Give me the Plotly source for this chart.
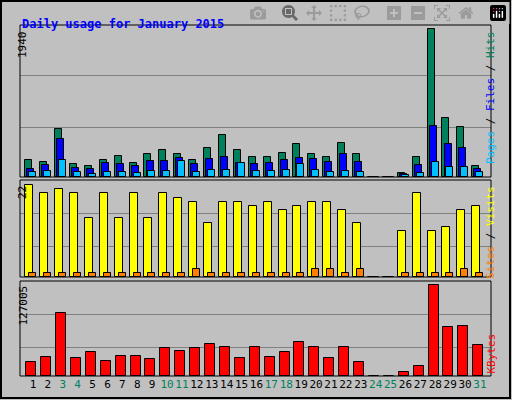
import plotly.graph_objects as go
from plotly.subplots import make_subplots

days = list(range(1, 32))
weekend = [3, 4, 10, 11, 17, 18, 24, 25, 31]
hits = [228, 202, 623, 176, 149, 228, 281, 189, 307, 360, 307, 228, 386, 544, 360, 268,
        268, 320, 439, 307, 268, 452, 307, 0, 0, 57, 268, 1940, 768, 650, 149]
files = [110, 162, 492, 123, 110, 189, 176, 149, 215, 215, 255, 176, 241, 268, 189, 176,
         189, 228, 255, 241, 202, 307, 202, 0, 0, 44, 162, 663, 426, 386, 110]
pages = [70, 83, 228, 70, 44, 70, 70, 57, 83, 83, 215, 70, 97, 97, 189, 83,
         83, 97, 176, 97, 70, 83, 70, 0, 0, 31, 57, 202, 136, 136, 70]
visits = [22, 20, 21, 20, 14, 20, 14, 20, 14, 20, 19, 18, 13, 18, 18, 17,
          18, 16, 17, 18, 18, 16, 13, 0, 0, 11, 20, 11, 12, 16, 17]
sites = [1, 1, 1, 1, 1, 1, 1, 1, 1, 1, 1, 2, 1, 1, 1, 1,
         1, 1, 1, 2, 2, 1, 2, 0, 0, 1, 1, 1, 1, 2, 1]
kbytes = [19540, 26517, 87923, 25122, 33496, 20935, 27912, 27912, 23726, 39077, 34890,
          39077, 44660, 40473, 25122, 40473, 26517, 33496, 47451, 40473, 25122, 40473,
          19540, 0, 0, 5582, 13956, 127005, 68384, 69780, 43264]

W, H = 512, 400
def py(p):
    return 1 - p / H
def px(p):
    return p / W

fig = make_subplots(rows=3, cols=1, shared_xaxes=True)

def bars(y, color, width, offset, row):
    fig.add_trace(go.Bar(x=days, y=y, width=width, offset=offset,
                         marker=dict(color=color, line=dict(color='black', width=1)),
                         showlegend=False), row=row, col=1)

bars(hits, '#00805c', 0.47, -0.52, 1)
bars(files, '#0000ff', 0.47, -0.38, 1)
bars(pages, '#00c0ff', 0.47, -0.25, 1)
bars(visits, '#ffff00', 0.54, -0.52, 2)
bars(sites, '#ff8000', 0.47, -0.25, 2)
bars(kbytes, '#ff0000', 0.67, -0.45, 3)

font = 'DejaVu Sans Mono'
ticktext = [f"<span style='color:#00805c'>{d}</span>" if d in weekend else str(d) for d in days]

xdom = [px(20), px(491)]
for i in (1, 2, 3):
    fig.update_xaxes(row=i, col=1, domain=xdom, range=[0.13, 31.74], showgrid=False,
                     zeroline=False, showticklabels=False, ticks='')
fig.update_xaxes(row=3, col=1, showticklabels=True, tickvals=days, ticktext=ticktext,
                 tickangle=0, tickfont=dict(family=font, size=11, color='black'), ticklen=0)

fig.update_yaxes(row=1, col=1, domain=[py(177), py(25)], range=[0, 1992],
                 tickvals=[655, 1324])
fig.update_yaxes(row=2, col=1, domain=[py(277), py(180)], range=[0, 23.2],
                 tickvals=[7.2, 15.1])
fig.update_yaxes(row=3, col=1, domain=[py(376), py(281)], range=[0, 132600],
                 tickvals=[40473, 86527])
fig.update_yaxes(showticklabels=False, gridcolor='#808080', gridwidth=1, zeroline=False)

shapes = [dict(type='rect', xref='paper', yref='paper', x0=px(1), x1=px(510), y0=py(398), y1=py(1),
               line=dict(color='black', width=2), layer='below')]
for top, bot in [(25, 177), (180, 277), (281, 376)]:
    shapes.append(dict(type='rect', xref='paper', yref='paper', x0=xdom[0], x1=xdom[1],
                       y0=py(bot), y1=py(top), line=dict(color='black', width=1)))

annotations = [
    dict(text='<b>Daily usage for January 2015</b>', x=px(20), y=py(15), xanchor='left',
         font=dict(family=font, size=12, color='#0000ff')),
    dict(text='1940', x=px(14), y=py(29), yanchor='top', textangle=-90,
         font=dict(family=font, size=11, color='black')),
    dict(text='22', x=px(14), y=py(184), yanchor='top', textangle=-90,
         font=dict(family=font, size=11, color='black')),
    dict(text='127005', x=px(14), y=py(284), yanchor='top', textangle=-90,
         font=dict(family=font, size=11, color='black')),
    dict(text="<span style='color:#00c0ff'>Pages</span> / <span style='color:#0000ff'>Files</span> / "
              "<span style='color:#00805c'>Hits</span>",
         x=px(499), y=py(29), yanchor='top', textangle=-90,
         font=dict(family=font, size=11, color='black')),
    dict(text="<span style='color:#ff8000'>Sites</span> / <span style='color:#ffff00'>Visits</span>",
         x=px(499), y=py(184), yanchor='top', textangle=-90,
         font=dict(family=font, size=11, color='black')),
    dict(text="KBytes", x=px(499), y=py(376), yanchor='bottom', textangle=-90,
         font=dict(family=font, size=11, color='#ff0000')),
]
for a in annotations:
    a.update(xref='paper', yref='paper', showarrow=False)

fig.update_layout(width=W, height=H, margin=dict(l=0, r=0, t=0, b=0),
                  paper_bgcolor='#c0c0c0', plot_bgcolor='#c0c0c0', barmode='overlay',
                  bargap=0, shapes=shapes, annotations=annotations)
fig.write_html("out.html", post_script="document.body.style.margin='0';")
